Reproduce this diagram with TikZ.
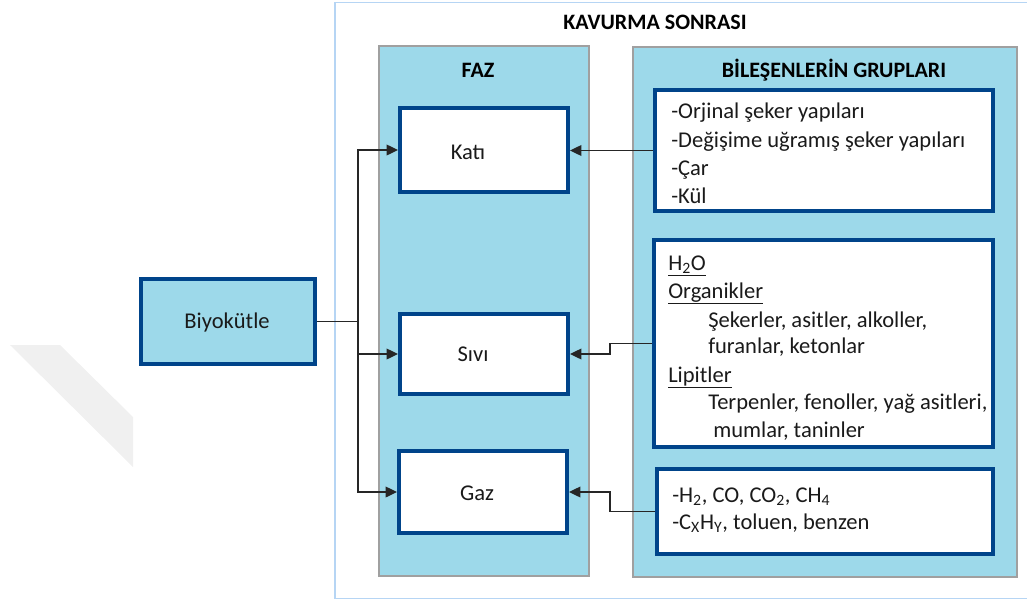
\documentclass[tikz,border=0pt]{standalone}
\usepackage{fontspec}
\setmainfont{Carlito}
\usetikzlibrary{fit,arrows.meta}
\definecolor{panelfill}{HTML}{9DD9EA}
\definecolor{darkblue}{HTML}{00448A}
\definecolor{panelgray}{HTML}{A0A0A0}
\definecolor{framecol}{HTML}{B6D5F4}
\definecolor{txt}{HTML}{1A1A1A}
\definecolor{wmark}{HTML}{F0F0F0}
\begin{document}
\begin{tikzpicture}[x=0.75pt,y=-0.75pt,
  panel/.style={draw=panelgray,line width=1.5pt,fill=panelfill,inner sep=0pt},
  whitebox/.style={draw=darkblue,line width=3pt,fill=white,inner sep=0pt},
  bluebox/.style={draw=darkblue,line width=3pt,fill=panelfill,inner sep=0pt},
  conn/.style={draw=black!85,line width=1pt},
  arr/.style={conn,-{Triangle[length=8.5pt,width=8pt]}},
  body/.style={font=\fontsize{16.9}{21}\selectfont,text=txt,inner sep=0pt},
  line/.style={body,anchor=base west},
  head/.style={font=\bfseries\fontsize{16.5}{21}\selectfont,text=black,inner sep=0pt}]
\useasboundingbox (0,0) rectangle (1027,603);
% watermark fragment
\fill[wmark] (10,345) -- (60,345) -- (133,417) -- (133,467) -- cycle;
% outer frame
\draw[framecol,line width=1.2pt] (1032,2.5) -- (335,2.5) -- (335,598.5) -- (1032,598.5);
% panels
\node[panel,fit={(379,46)(589,576)}] (faz) {};
\node[panel,fit={(633,47)(1017,577)}] (bil) {};
% titles
\node[head] (title) at (655,22) {KAVURMA SONRASI};
\node[head] (fazT) at (478,70) {FAZ};
\node[head] (bilT) at (834,70) {BİLEŞENLERİN GRUPLARI};
% phase boxes
\node[whitebox,fit={(400,108)(568,192)}] (kati) {};
\node[whitebox,fit={(400,314)(568,394)}] (sivi) {};
\node[whitebox,fit={(399,451)(567,533)}] (gaz) {};
\node[body] (katiT) at (468,152) {Katı};
\node[body] (siviT) at (473,354) {Sıvı};
\node[body] (gazT) at (477,493) {Gaz};
% biomass
\node[bluebox,fit={(141,279)(315,364)}] (biyo) {};
\node[body] (biyoT) at (227,322) {Biyokütle};
% component boxes
\node[whitebox,fit={(655,90)(993,211)}] (b1) {};
\node[whitebox,fit={(654,240)(993,447)}] (b2) {};
\node[whitebox,fit={(657,469)(993,554)}] (b3) {};
% box 1 text
\node[line] (l11) at (671,118) {-Orjinal şeker yapıları};
\node[line] (l12) at (671,147) {-Değişime uğramış şeker yapıları};
\node[line] (l13) at (671,175) {-Çar};
\node[line] (l14) at (671,203) {-Kül};
% box 2 text
\node[line] (l21) at (668,270) {\underline{H\textsubscript{2}O}};
\node[line] (l22) at (668,298) {\underline{Organikler}};
\node[line] (l23) at (708,327) {Şekerler, asitler, alkoller,};
\node[line] (l24) at (708,353) {furanlar, ketonlar};
\node[line] (l25) at (668,382) {\underline{Lipitler}};
\node[line] (l26) at (708,409) {Terpenler, fenoller, yağ asitleri,};
\node[line] (l27) at (713,437) {mumlar, taninler};
% box 3 text
\node[line] (l31) at (672,502) {-H\textsubscript{2}, CO, CO\textsubscript{2}, CH\textsubscript{4}};
\node[line] (l32) at (672,529) {-C\textsubscript{X}H\textsubscript{Y}, toluen, benzen};
% connectors
\path (biyo.east) ++(41,0) coordinate (bus);
\path (b2.west) ++(-42,0) coordinate (c2);
\path (b3.west) ++(-45,0) coordinate (c3);
\draw[conn] (biyo.east) -- (bus);
\draw[arr] (bus) |- (kati.west);
\draw[arr] (bus) |- (sivi.west);
\draw[arr] (bus) |- (gaz.west);
\draw[arr] (b1.west) -- (b1.west -| kati.east);
\draw[arr] (b2.west) -- (c2) |- (sivi.east);
\draw[arr] (b3.west) -- (c3) |- (gaz.east);
\end{tikzpicture}
\end{document}
